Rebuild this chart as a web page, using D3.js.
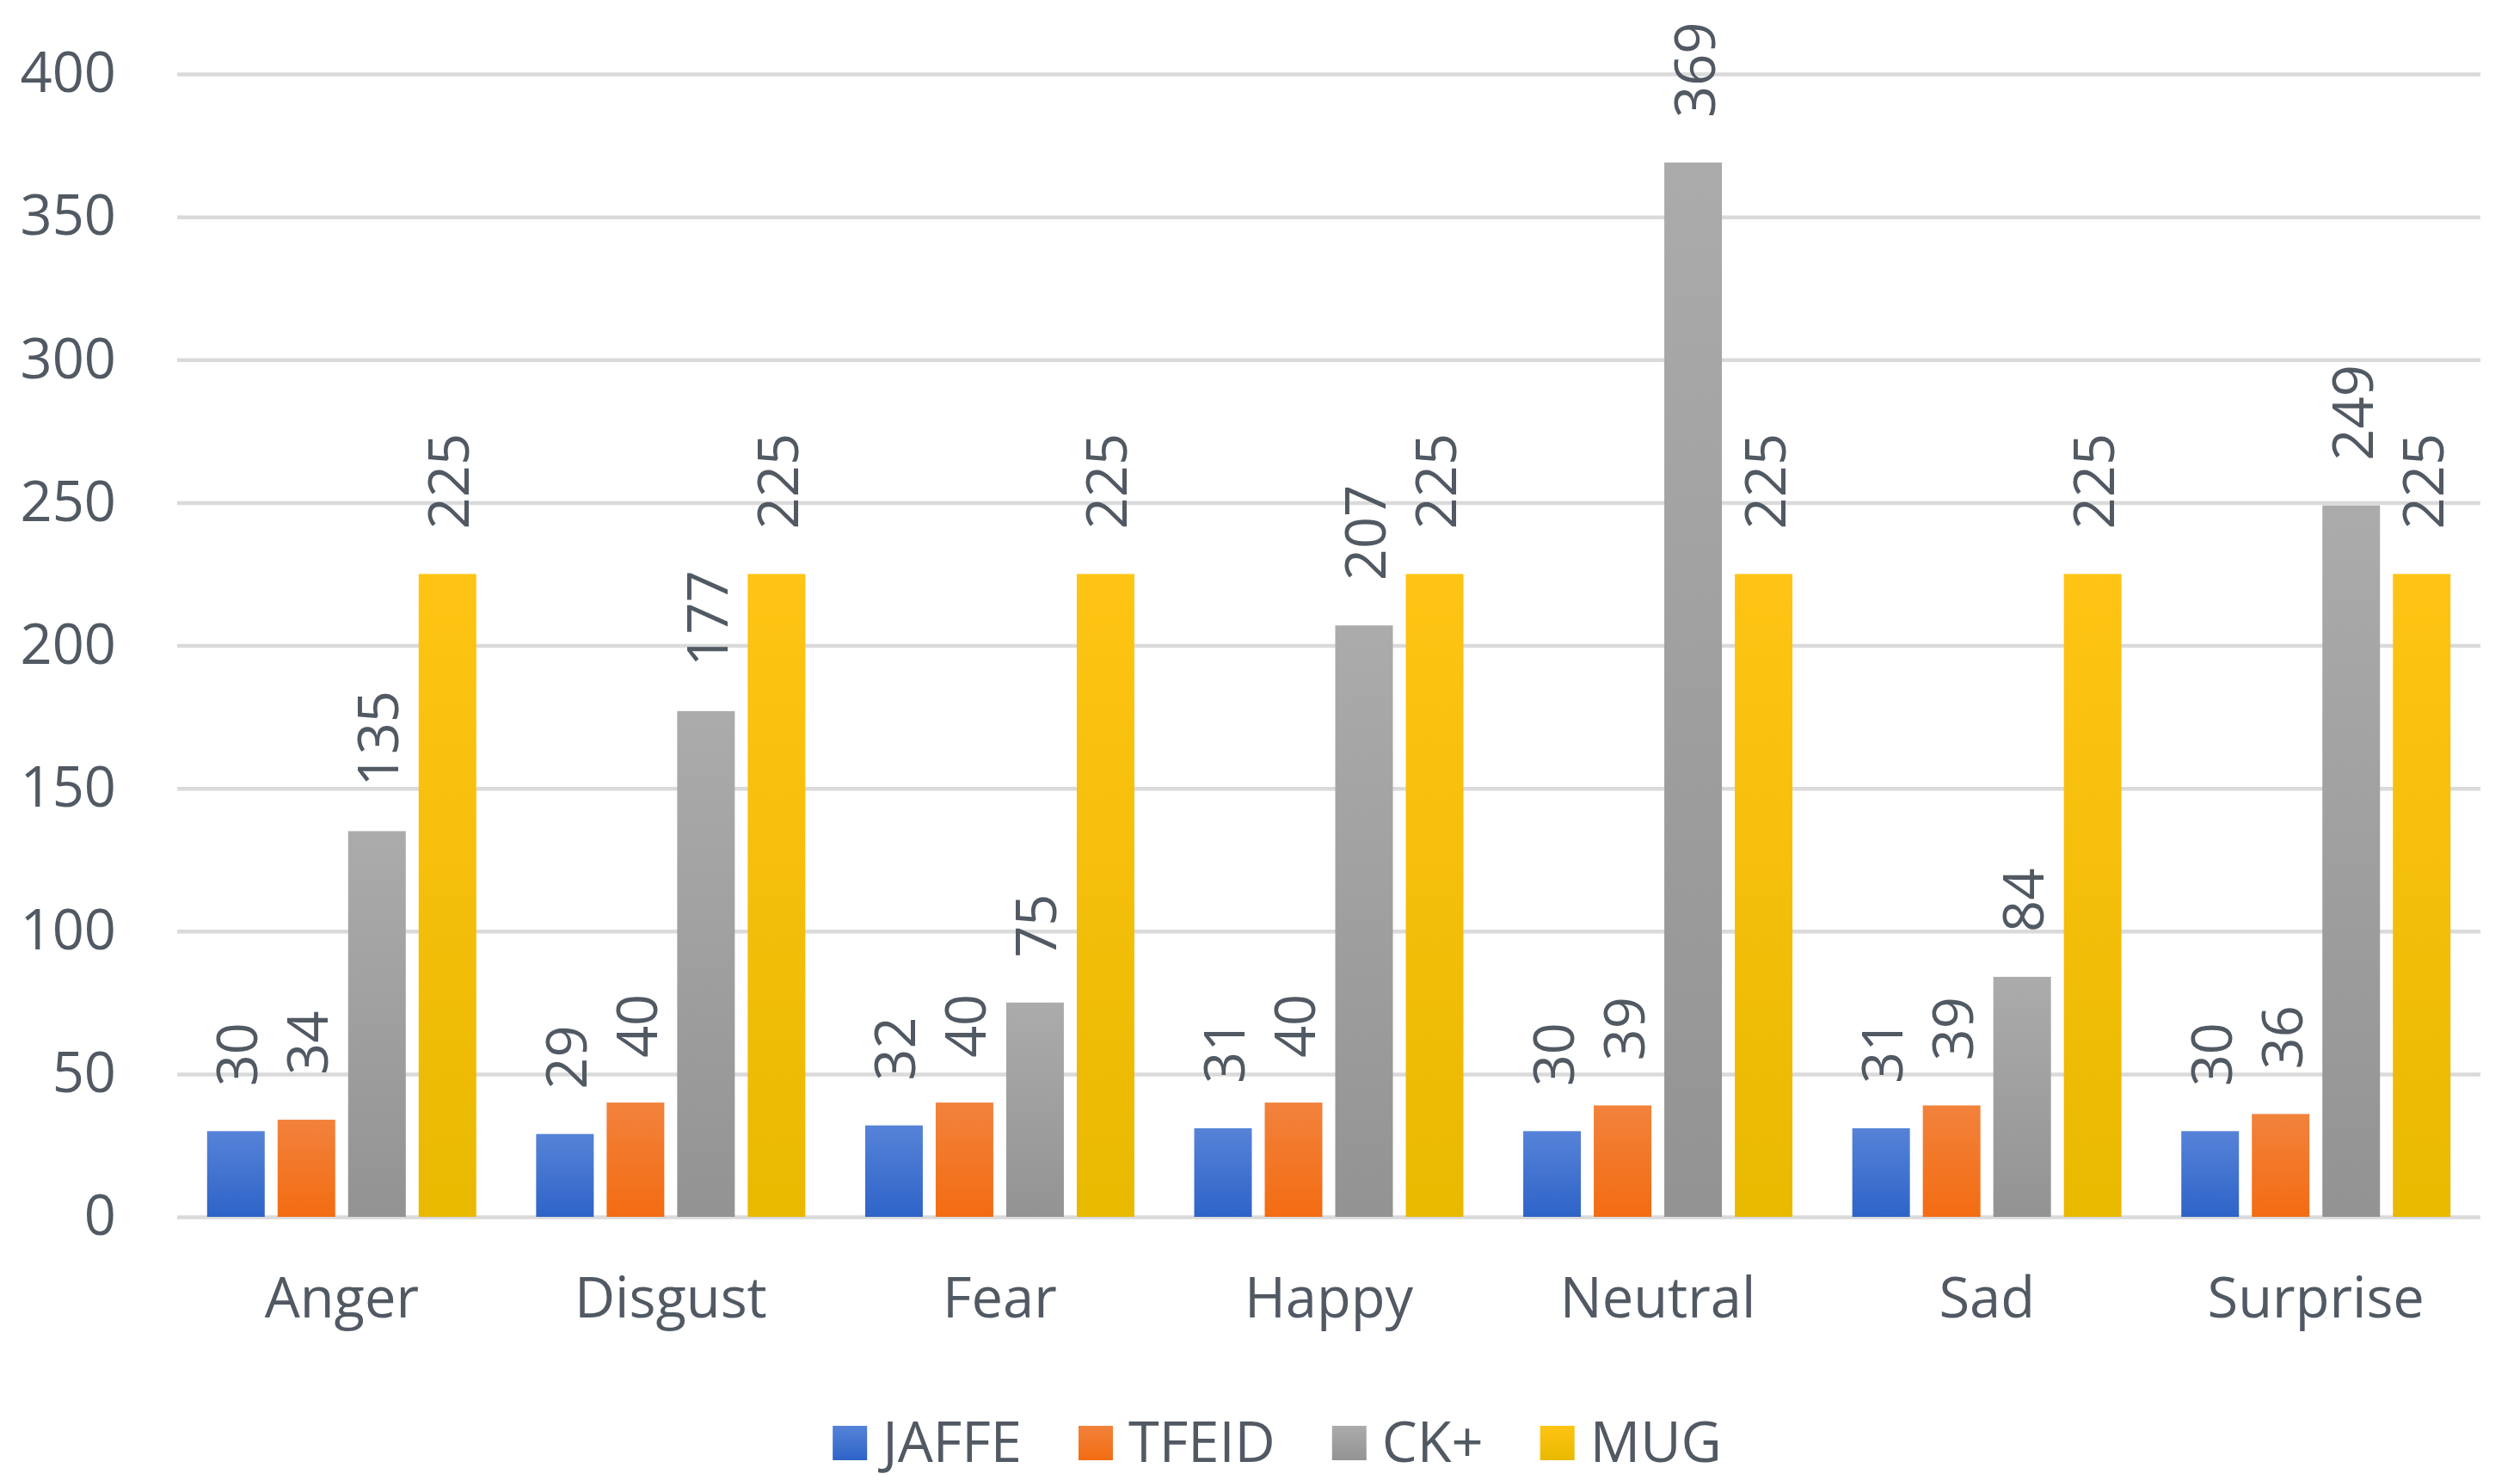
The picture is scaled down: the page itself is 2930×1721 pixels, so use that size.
<!DOCTYPE html>
<html>
<head>
<meta charset="utf-8">
<script src="https://cdn.jsdelivr.net/npm/d3@7"></script>
<style>
  html, body { margin: 0; padding: 0; background: #ffffff; }
  svg { display: block; }
  text { font-family: "Open Sans", "Noto Sans", sans-serif; fill: #515963; }
</style>
</head>
<body>
<svg id="chart" width="2930" height="1721"></svg>
<script>
// ---- data ----
const categories = ["Anger", "Disgust", "Fear", "Happy", "Neutral", "Sad", "Surprise"];
const seriesNames = ["JAFFE", "TFEID", "CK+", "MUG"];
const jaffe = [30, 29, 32, 31, 30, 31, 30];
const tfeid = [34, 40, 40, 40, 39, 39, 36];
const ckplus = [135, 177, 75, 207, 369, 84, 249];
const mug = [225, 225, 225, 225, 225, 225, 225];
const yTicks = [0, 50, 100, 150, 200, 250, 300, 350, 400];

const seriesValues = [jaffe, tfeid, ckplus, mug];
const colorsTop = ["#5683d8", "#f2823c", "#ababab", "#ffc414"];
const colorsBottom = ["#2e63c7", "#f36c12", "#939393", "#e9b900"];

// ---- layout ----
const plotLeft = 206, plotRight = 2884, plotTop = 86, plotBottom = 1415;
const FS = 65;
const textColor = "#515963";

const svg = d3.select("#chart");

const defs = svg.append("defs");
seriesNames.forEach((s, i) => {
  const g = defs.append("linearGradient")
    .attr("id", "grad" + i).attr("x1", 0).attr("y1", 0).attr("x2", 0).attr("y2", 1);
  g.append("stop").attr("offset", "0%").attr("stop-color", colorsTop[i]);
  g.append("stop").attr("offset", "100%").attr("stop-color", colorsBottom[i]);
});

const x0 = d3.scaleBand().domain(categories).range([plotLeft, plotRight]).padding(0);
const groupSpan = 313;
const groupInset = (x0.bandwidth() - groupSpan) / 2;
const x1 = d3.scaleBand().domain(seriesNames)
  .range([groupInset, groupInset + groupSpan])
  .paddingInner(0.183).paddingOuter(0);
const y = d3.scaleLinear().domain([0, 400]).range([plotBottom, plotTop]);

// gridlines
const grid = svg.append("g")
  .attr("transform", `translate(${plotLeft},0)`)
  .call(d3.axisLeft(y).tickValues(yTicks).tickSize(-(plotRight - plotLeft)).tickFormat(""));
grid.select(".domain").remove();
grid.selectAll(".tick line").attr("stroke", "#dadada").attr("stroke-width", 4.5);

// y labels
const yAxis = svg.append("g")
  .attr("transform", `translate(${plotLeft},0)`)
  .call(d3.axisLeft(y).tickValues(yTicks).tickSize(0).tickPadding(71));
yAxis.select(".domain").remove();
yAxis.selectAll("text").attr("font-size", FS).style("font-family", '"Open Sans", sans-serif')
  .attr("fill", textColor);

// x labels
const xAxis = svg.append("g")
  .attr("transform", `translate(0,${plotBottom})`)
  .call(d3.axisBottom(x0).tickSize(0).tickPadding(71));
xAxis.select(".domain").remove();
xAxis.selectAll("text").attr("font-size", FS).style("font-family", '"Open Sans", sans-serif')
  .attr("fill", textColor);

// bars
const rows = [];
categories.forEach((c, ci) => {
  seriesNames.forEach((s, si) => {
    rows.push({ cat: c, series: s, si: si, value: seriesValues[si][ci] });
  });
});

const barG = svg.append("g");
barG.selectAll("rect").data(rows).join("rect")
  .attr("x", d => x0(d.cat) + x1(d.series))
  .attr("y", d => y(d.value))
  .attr("width", x1.bandwidth())
  .attr("height", d => y(0) - y(d.value))
  .attr("fill", d => `url(#grad${d.si})`);

// data labels (rotated)
barG.selectAll("text.lbl").data(rows).join("text")
  .attr("class", "lbl")
  .attr("transform", d => {
    const cx = x0(d.cat) + x1(d.series) + x1.bandwidth() / 2;
    const cy = y(d.value) - 52;
    return `translate(${cx},${cy}) rotate(-90)`;
  })
  .attr("text-anchor", "start")
  .attr("dominant-baseline", "central")
  .attr("font-size", FS)
  .attr("fill", textColor)
  .text(d => d.value);

// legend
const legend = svg.append("g");
const sw = 40, gapText = 18, gapItem = 66;
const legendBaseline = 1700, legendCenterX = 1485;
const items = legend.selectAll("g").data(seriesNames).join("g");
items.append("rect")
  .attr("width", sw).attr("height", sw)
  .attr("y", legendBaseline - 42)
  .attr("fill", (d, i) => `url(#grad${i})`);
items.append("text")
  .attr("x", sw + gapText)
  .attr("y", legendBaseline)
  .attr("font-size", FS)
  .attr("fill", textColor)
  .text(d => d);
let widths = [];
items.each(function () { widths.push(this.getBBox().width); });
const total = d3.sum(widths) + gapItem * (widths.length - 1);
let cur = legendCenterX - total / 2;
items.attr("transform", (d, i) => { const t = `translate(${cur},0)`; cur += widths[i] + gapItem; return t; });
</script>
</body>
</html>
